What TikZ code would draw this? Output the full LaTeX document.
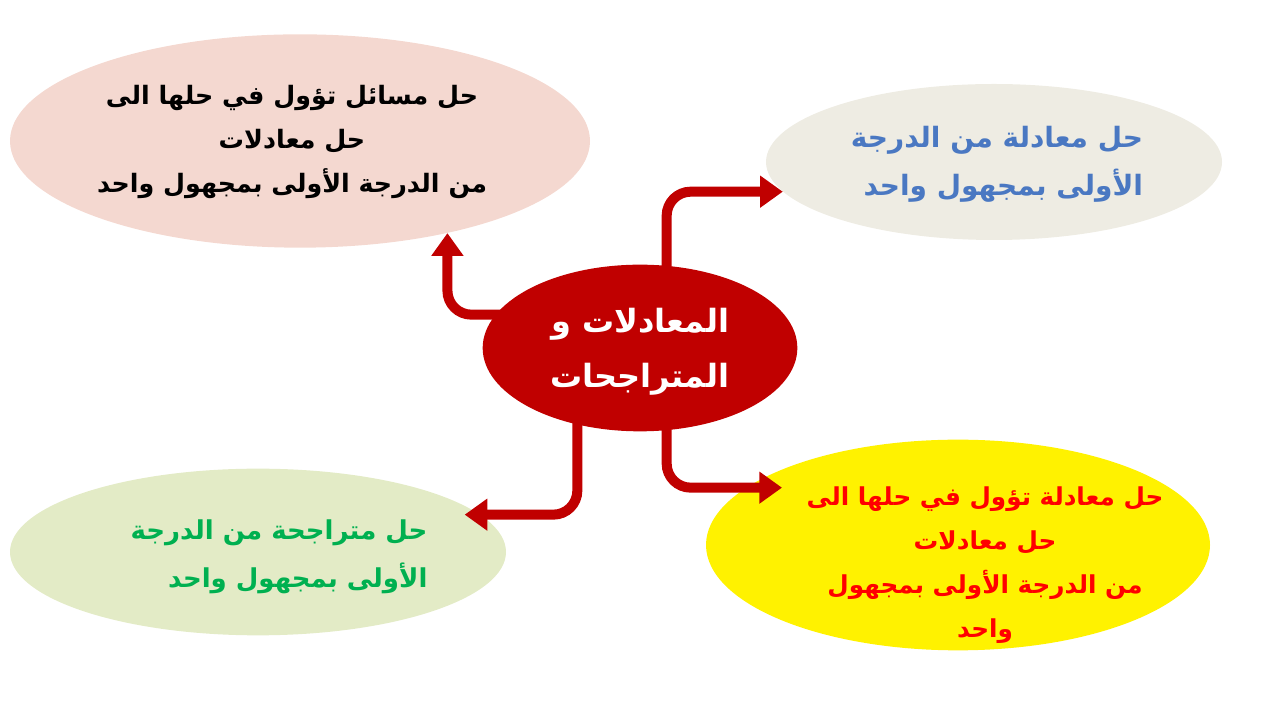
\documentclass[tikz,border=0pt]{standalone}
\usepackage{fontspec}
\newfontfamily\arabicfont[Script=Arabic]{DejaVu Sans}
\TeXXeTstate=1
\usetikzlibrary{shapes.geometric,arrows.meta}
\definecolor{hubred}{HTML}{C00000}
\definecolor{pinkfill}{HTML}{F4D8D0}
\definecolor{greyfill}{HTML}{EEECE3}
\definecolor{greenfill}{HTML}{E3EBC6}
\definecolor{bluetext}{HTML}{4A78C2}
\definecolor{greentext}{HTML}{00B050}
\newcommand{\rtlline}[1]{\beginR #1\endR}
\begin{document}
\begin{tikzpicture}[x=75pt,y=75pt,
	bubble/.style={ellipse, inner sep=0pt},
	words/.style={inner sep=0pt, font=\arabicfont\bfseries\fontsize{19}{33}\selectfont},
	link/.style={draw=hubred, line width=7.5pt, rounded corners=18pt, -{Triangle[width=23pt,length=17pt]}}]
				\useasboundingbox (0,0) rectangle (12.8,7.2);
				\node[bubble, fill=pinkfill, minimum width=435pt, minimum height=160pt] (tl) at (3.00,5.79){};
				\node[bubble, fill=greyfill, minimum width=342pt, minimum height=117pt] (tr) at (9.94,5.58){};
				\node[bubble, fill=greenfill, minimum width=372pt, minimum height=125pt] (bl) at (2.58,1.68){};
				\node[bubble, fill=yellow, minimum width=378pt, minimum height=158pt] (br) at (9.58,1.75){};
				\node[bubble, fill=hubred, minimum width=236pt, minimum height=125pt] (c) at (6.40,3.72){};
				\draw[link]([yshift=25pt]c.center) -| (tl.-32);
				\draw[link]([xshift=20pt]c.center) |- (tr.188);
				\draw[link]([xshift=-47pt]c.center) |- ([xshift=155pt,yshift=28pt]bl.center);
				\draw[link]([xshift=20pt]c.center) |- ([xshift=-132pt,yshift=43pt]br.center);
				\node[words, align=right, text=white, font=\arabicfont\bfseries\fontsize{24}{41}\selectfont] (ctext) at (6.40,3.68){\rtlline{المعادلات و}\\\rtlline{المتراجحات}};
				\node[words, align=center, text=black] (tltext) at (2.92,5.78){\rtlline{حل مسائل تؤول في حلها الى}\\\rtlline{حل معادلات}\\\rtlline{من الدرجة الأولى بمجهول واحد}};
				\node[words, align=right, text=bluetext, font=\arabicfont\bfseries\fontsize{21}{36}\selectfont] (trtext) at (9.97,5.56){\rtlline{حل معادلة من الدرجة}\\\rtlline{الأولى بمجهول واحد}};
				\node[words, align=right, text=greentext, font=\arabicfont\bfseries\fontsize{19.5}{36}\selectfont] (bltext) at (2.79,1.63){\rtlline{حل متراجحة من الدرجة}\\\rtlline{الأولى بمجهول واحد}};
				\node[words, align=center, text=red, font=\arabicfont\bfseries\fontsize{18.5}{33}\selectfont] (brtext) at (9.85,1.55){\rtlline{حل معادلة تؤول في حلها الى}\\\rtlline{حل معادلات}\\\rtlline{من الدرجة الأولى بمجهول}\\\rtlline{واحد}};
\end{tikzpicture}
\end{document}
